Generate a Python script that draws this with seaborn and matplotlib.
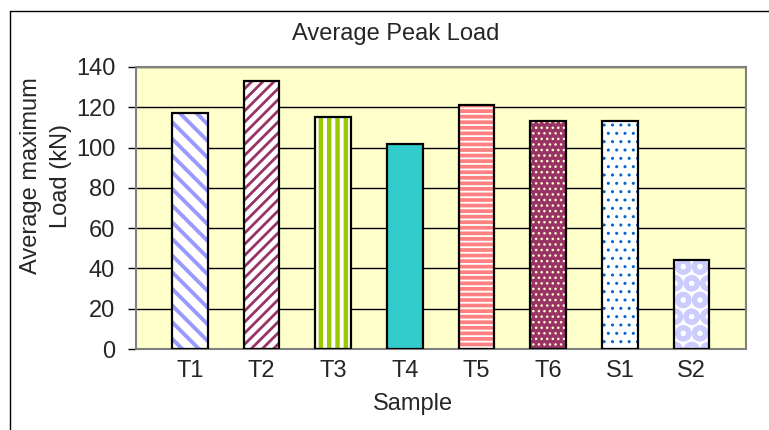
import matplotlib
matplotlib.use("Agg")
import matplotlib.pyplot as plt
import matplotlib.patches as mpatches
import matplotlib.lines as mlines
import seaborn as sns

# data
samples = ["T1", "T2", "T3", "T4", "T5", "T6", "S1", "S2"]
loads = [117, 133, 115, 102, 121, 113, 113, 44]

# bar styling (Excel-like fills)
face_colors = ["#FFFFFF", "#FFFFFF", "#FFFFFF", "#33CCCC", "#FF8080", "#993366", "#FFFFFF", "#FFFFFF"]
hatch_colors = ["#9999FF", "#993366", "#99CC00", "#33CCCC", "#FFFFFF", "#FFFFCC", "#0066CC", "#CCCCFF"]
hatches = ["\\\\", "///", "||", "", "---", "...", "..", "O"]
hatch_widths = [2.8, 2.0, 3.2, 1.0, 1.3, 1.0, 1.0, 3.5]

sns.set_style("white")
plt.rcParams["font.family"] = ["Liberation Sans", "DejaVu Sans"]
plt.rcParams["hatch.linewidth"] = 2.5

fig = plt.figure(figsize=(7.69, 4.30), dpi=100)
ax = fig.add_axes([136 / 769, 81 / 430, 610 / 769, 282 / 430])
ax.set_facecolor("#FFFFCC")

sns.barplot(x=samples, y=loads, hue=samples, palette=face_colors, legend=False,
            saturation=1, width=0.5, ax=ax, zorder=2)

for p, hc, h, hw in zip(ax.patches, hatch_colors, hatches, hatch_widths):
    p.set_edgecolor(hc)
    p.set_linewidth(0)
    if h:
        p.set_hatch(h)
        if hasattr(p, "set_hatch_linewidth"):
            p.set_hatch_linewidth(hw)
    # black outline on top
    ax.add_patch(mpatches.Rectangle(p.get_xy(), p.get_width(), p.get_height(),
                                    fill=False, edgecolor="black", linewidth=1.6, zorder=3))

ax.set_ylim(0, 140)
ax.set_yticks(range(0, 141, 20))
ax.set_xlim(-0.75, len(samples) - 0.24)
ax.yaxis.grid(True, color="black", linewidth=1.0, zorder=0)
ax.set_axisbelow(True)

for side in ["left", "right", "top", "bottom"]:
    ax.spines[side].set_color("#808080")
    ax.spines[side].set_linewidth(1.5)
    ax.spines[side].set_visible(True)

ax.tick_params(axis="y", length=6, width=1, color="black", pad=9, labelsize=17, left=True)
ax.tick_params(axis="x", length=0, pad=8, labelsize=17)
ax.set_xlabel("Sample", fontsize=17, labelpad=6)
ax.set_ylabel("")
ax.xaxis.set_label_coords((413 - 136) / 610, -0.155)

fig.text(46 / 769, 1 - 176 / 430, "Average maximum\nLoad (kN)", rotation=90,
         ha="center", va="center", fontsize=17, linespacing=1.5, multialignment="center")
fig.text(396 / 769, 1 - 34 / 430, "Average Peak Load", ha="center", va="center", fontsize=17)

# outer chart border: only top and left edges fall inside the image
bx, by = 9.5 / 769, 1 - 10.5 / 430
fig.lines.append(mlines.Line2D([bx, 1.0], [by, by], transform=fig.transFigure,
                               color="black", linewidth=1.0))
fig.lines.append(mlines.Line2D([bx, bx], [0.0, by], transform=fig.transFigure,
                               color="black", linewidth=1.0))

fig.savefig("out.png", dpi=100)
